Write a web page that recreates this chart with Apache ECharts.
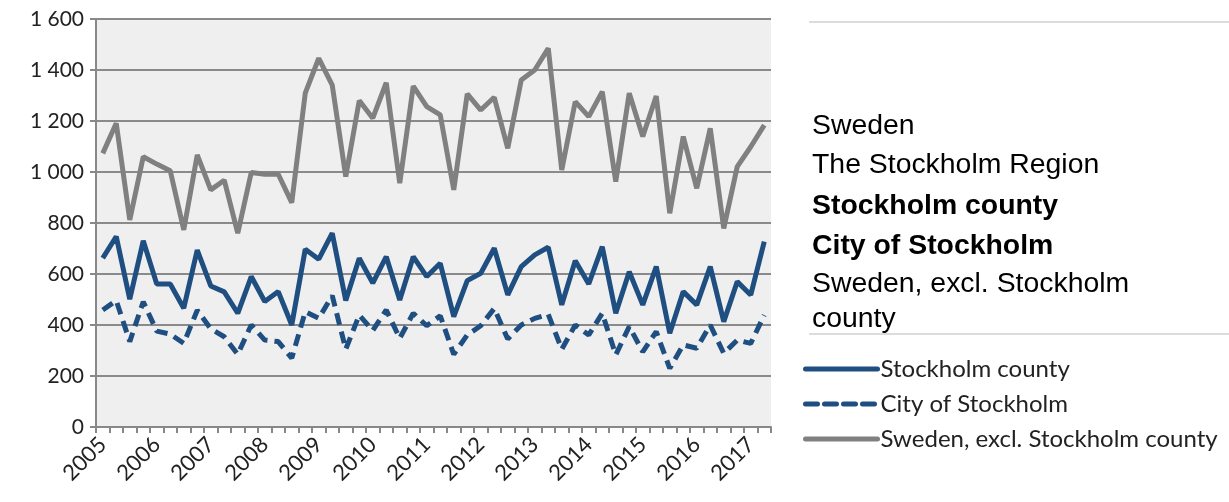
<!DOCTYPE html>
<html>
<head>
<meta charset="utf-8">
<script src="https://cdn.jsdelivr.net/npm/echarts@6/dist/echarts.min.js"></script>
<style>
html,body{margin:0;padding:0;background:#fff;}
#c{width:1229px;height:502px;}
</style>
</head>
<body>
<div id="c"></div>
<script>
// Quarterly data 2005 Q1 – 2017 Q2
const years = ['2005','2006','2007','2008','2009','2010','2011','2012','2013','2014','2015','2016','2017'];
const quarters = [];
for (const y of years) { for (let q = 1; q <= 4; q++) { quarters.push(y + ' Q' + q); } }
const categories = quarters.slice(0, 50);

const stockholmCounty = [
  662, 747, 501, 730, 561, 561, 466, 694, 553, 530,
  446, 590, 492, 531, 400, 697, 658, 760, 496, 662,
  564, 668, 498, 668, 590, 642, 433, 574, 603, 701,
  518, 629, 675, 705, 479, 652, 561, 707, 446, 609,
  479, 629, 368, 531, 479, 629, 413, 570, 518, 727
];
const cityOfStockholm = [
  459, 496, 335, 491, 376, 364, 328, 458, 385, 354,
  285, 400, 341, 335, 270, 452, 426, 515, 305, 439,
  378, 459, 348, 446, 397, 436, 285, 361, 397, 465,
  345, 400, 426, 442, 305, 400, 361, 446, 283, 394,
  295, 374, 230, 322, 309, 400, 289, 341, 328, 439
];
const swedenExcl = [
  1073, 1191, 812, 1060, 1031, 1005, 773, 1067, 930, 968,
  760, 998, 991, 991, 880, 1309, 1446, 1341, 982, 1280,
  1211, 1350, 956, 1337, 1256, 1224, 930, 1306, 1243, 1293,
  1093, 1361, 1400, 1485, 1008, 1276, 1217, 1315, 962, 1309,
  1139, 1298, 838, 1139, 936, 1171, 779, 1021, 1099, 1184
];
const seriesNames = ['Stockholm county', 'City of Stockholm', 'Sweden, excl. Stockholm county'];
const sideLines = [
  {text: 'Sweden', bold: false},
  {text: 'The Stockholm Region', bold: false},
  {text: 'Stockholm county', bold: true},
  {text: 'City of Stockholm', bold: true},
  {text: 'Sweden, excl. Stockholm', bold: false},
  {text: 'county', bold: false}
];

const BLUE = '#1f4e80';
const GRAY = '#808080';
const chart = echarts.init(document.getElementById('c'), null, {renderer: 'canvas'});

const graphics = [
  {type: 'line', shape: {x1: 809, y1: 22, x2: 1229, y2: 22}, style: {stroke: '#dcdcdc', lineWidth: 2}},
  {type: 'line', shape: {x1: 809, y1: 334, x2: 1229, y2: 334}, style: {stroke: '#dcdcdc', lineWidth: 2}}
];
const ys = [127, 166, 207, 247, 285, 320];
sideLines.forEach((l, i) => {
  graphics.push({
    type: 'text', left: 812, top: ys[i] - 15,
    style: {text: l.text, font: (l.bold ? 'bold ' : '') + '28.4px "Liberation Sans", Arial, sans-serif', fill: '#000'}
  });
});

chart.setOption({
  animation: false,
  backgroundColor: '#fff',
  grid: {left: 96, right: 458, top: 19, bottom: 75, show: true, backgroundColor: '#efefef', borderWidth: 0},
  legend: {
    orient: 'vertical', left: 798, top: 352, itemWidth: 72, itemHeight: 8, itemGap: 11,
    data: seriesNames,
    itemStyle: {opacity: 0},
    lineStyle: {width: 5, cap: 'round'},
    textStyle: {fontFamily: 'Lato', fontSize: 24, color: '#222', padding: [0, 0, 0, -2]}
  },
  xAxis: {
    type: 'category', data: categories, boundaryGap: true,
    axisLine: {lineStyle: {color: '#888', width: 2}},
    axisTick: {show: true, interval: 0, length: 6, lineStyle: {color: '#888', width: 2}},
    axisLabel: {
      interval: 3, rotate: 45, margin: 14,
      formatter: v => v.slice(0, 4),
      fontFamily: 'Lato', fontSize: 22, color: '#222'
    },
    splitLine: {show: false}
  },
  yAxis: {
    type: 'value', min: 0, max: 1600, interval: 200,
    axisLine: {show: true, lineStyle: {color: '#888', width: 2}},
    axisTick: {show: true, length: 6, lineStyle: {color: '#888', width: 2}},
    axisLabel: {
      margin: 12, fontFamily: 'Lato', fontSize: 21, color: '#222',
      formatter: v => String(v).replace(/\B(?=(\d{3})+(?!\d))/g, ' ')
    },
    splitLine: {lineStyle: {color: '#8a8a8a', width: 2}}
  },
  graphic: graphics,
  series: [
    {name: seriesNames[0], type: 'line', data: stockholmCounty, symbol: 'none',
     lineStyle: {color: BLUE, width: 5}, itemStyle: {color: BLUE}},
    {name: seriesNames[1], type: 'line', data: cityOfStockholm, symbol: 'none',
     lineStyle: {color: BLUE, width: 5, type: [12, 7]}, itemStyle: {color: BLUE}},
    {name: seriesNames[2], type: 'line', data: swedenExcl, symbol: 'none',
     lineStyle: {color: GRAY, width: 5}, itemStyle: {color: GRAY}}
  ]
});
</script>
</body>
</html>
